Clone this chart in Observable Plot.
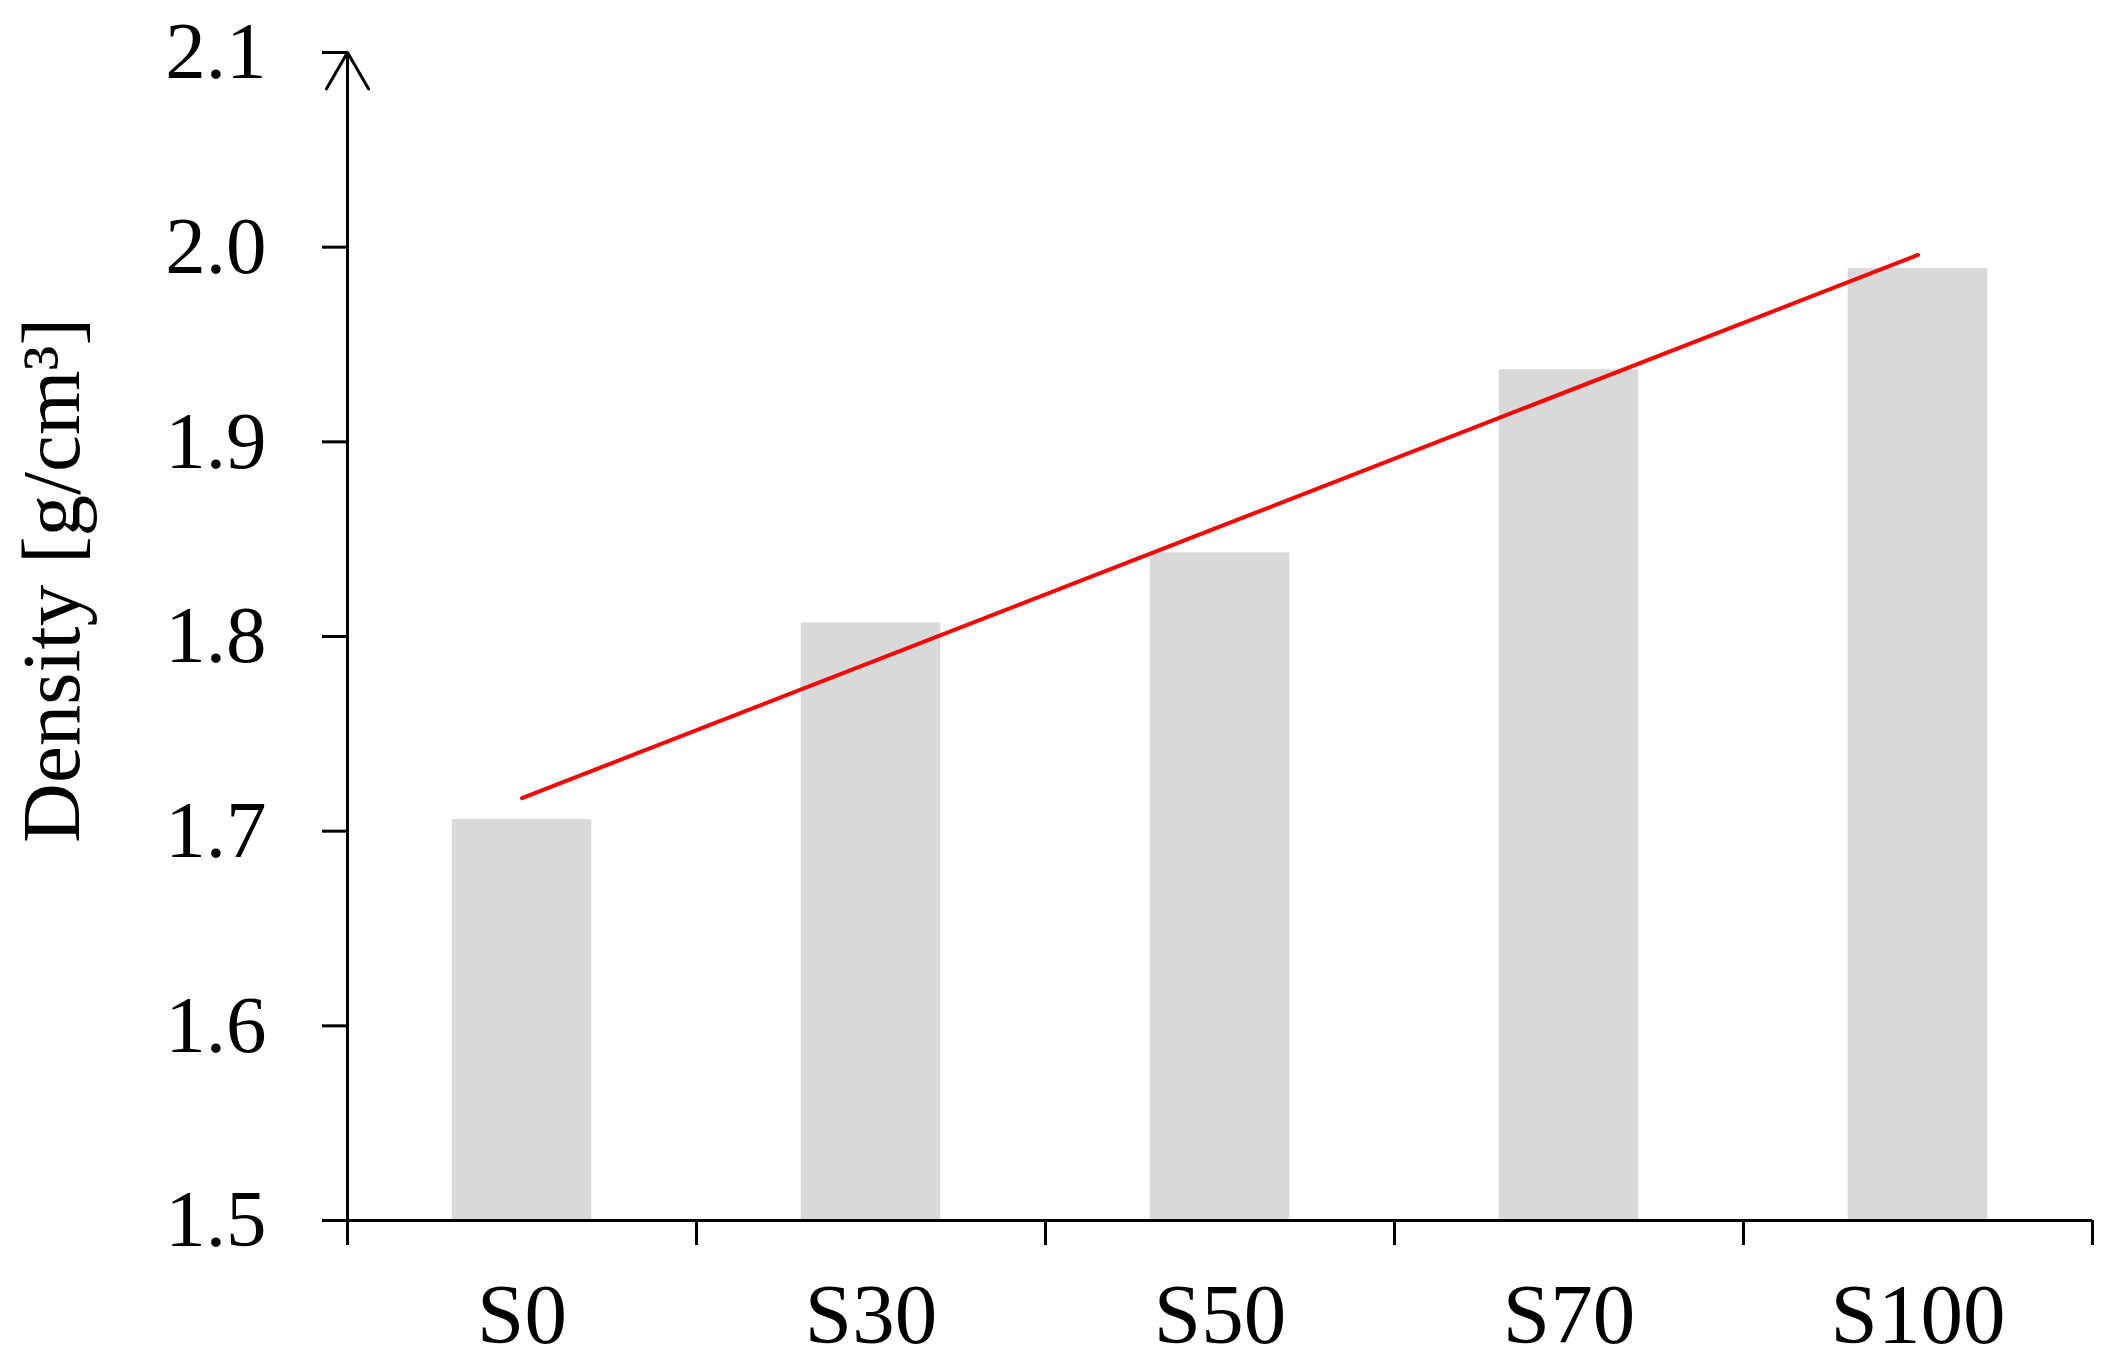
<!DOCTYPE html>
<html>
<head>
<meta charset="utf-8">
<script src="https://cdn.jsdelivr.net/npm/d3@7"></script>
<script src="https://cdn.jsdelivr.net/npm/@observablehq/plot@0.6"></script>
<style>
  html, body { margin: 0; padding: 0; background: #ffffff; }
  svg { display: block; }
</style>
</head>
<body>
<div id="chart"></div>
<script>
// ---- data ----
const categories = ["S0", "S30", "S50", "S70", "S100"];
const density = [1.706, 1.807, 1.843, 1.937, 1.989];
const trendCategories = ["S0", "S100"];
const trendValues = [1.717, 1.996];
const yTicks = [1.5, 1.6, 1.7, 1.8, 1.9, 2.0, 2.1];
const yTitle = "Density [g/cm³]";

// ---- derived tables ----
const bars = categories.map((c, i) => ({cat: c, i, v: density[i]}));
const trend = trendCategories.map((c, k) => ({pos: categories.indexOf(c) + 0.5, v: trendValues[k]}));
const boundaries = d3.range(categories.length + 1);
const centers = categories.map((c, i) => i + 0.5);
const yMin = yTicks[0], yMax = yTicks[yTicks.length - 1];

const font = "'Liberation Serif', 'Times New Roman', serif";

const chart = Plot.plot({
  width: 2110,
  height: 1360,
  marginLeft: 347,
  marginRight: 18,
  marginTop: 52,
  marginBottom: 140,
  style: {fontFamily: font, fontSize: "82px", color: "#000", background: "#fff"},
  x: {domain: [0, categories.length], axis: null},
  y: {domain: [yMin, yMax], axis: null},
  marks: [
    Plot.rectY(bars, {x1: d => d.i + 0.3, x2: d => d.i + 0.7, y1: yMin, y2: "v", fill: "#d9d9d9"}),
    Plot.line(trend, {x: "pos", y: "v", stroke: "#ff0000", strokeWidth: 4, strokeLinecap: "round"}),
    // y axis ticks + labels
    Plot.axisY({ticks: yTicks, tickSize: 25, tickPadding: 56, strokeWidth: 3, tickFormat: d3.format(".1f"), fontSize: 81, label: null}),
    // x axis boundary ticks
    Plot.axisX({ticks: boundaries, tickSize: 25, strokeWidth: 3, tickFormat: () => "", label: null}),
    // x axis category labels
    Plot.axisX({ticks: centers, tickSize: 0, tickPadding: 62, tickFormat: d => categories[Math.floor(d)], fontSize: 85, label: null}),
    // x axis line
    Plot.ruleY([yMin], {stroke: "#000", strokeWidth: 3}),
    // y axis line with arrow head
    Plot.arrow([0], {x1: 0, x2: 0, y1: yMin, y2: yMax, stroke: "#000", strokeWidth: 3, headLength: 21, headAngle: 60}),
    // y title
    Plot.text([yTitle], {frameAnchor: "left", text: d => d, rotate: -90, dx: -295, dy: -56, fontSize: 83, textAnchor: "middle", lineAnchor: "middle", fill: "#000"})
  ]
});

document.getElementById("chart").appendChild(chart);
</script>
</body>
</html>
